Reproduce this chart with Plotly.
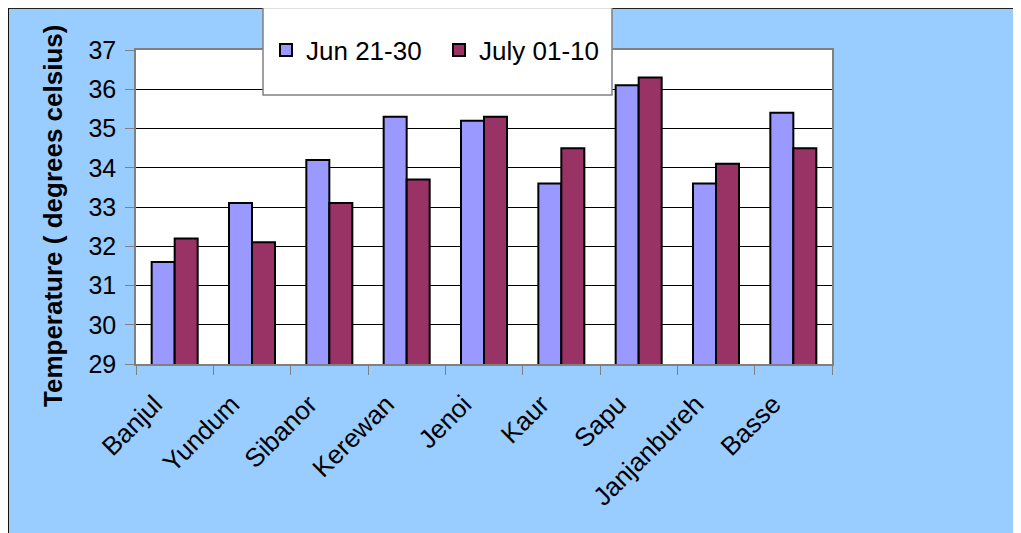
import plotly.graph_objects as go

stations = ["Banjul", "Yundum", "Sibanor", "Kerewan", "Jenoi", "Kaur", "Sapu", "Janjanbureh", "Basse"]
jun_21_30 = [31.6, 33.1, 34.2, 35.3, 35.2, 33.6, 36.1, 33.6, 35.4]
july_01_10 = [32.2, 32.1, 33.1, 33.7, 35.3, 34.5, 36.3, 34.1, 34.5]
y_ticks = [29, 30, 31, 32, 33, 34, 35, 36, 37]

FONT = "Liberation Sans, Arial, sans-serif"
OFF = 8  # page body margin
W, H = 1021 - OFF, 533 - OFF
L, R, T, B = 136 - OFF, 1021 - 832, 50 - OFF, 533 - 364
pw, ph = W - L - R, H - T - B


def px(x):
    # page pixel -> paper coordinate
    return (x - OFF - L) / pw


def py(y):
    return (H - B - (y - OFF)) / ph


fig = go.Figure()
fig.add_trace(go.Bar(x=stations, y=jun_21_30, name="Jun 21-30",
                     marker=dict(color="#9999FF", line=dict(color="black", width=2))))
fig.add_trace(go.Bar(x=stations, y=july_01_10, name="July 01-10",
                     marker=dict(color="#993366", line=dict(color="black", width=2))))

shapes = [
    dict(type="line", xref="paper", yref="paper", x0=px(8), x1=px(1030), y0=py(8), y1=py(8),
         line=dict(color="#222222", width=2), layer="above"),
    dict(type="line", xref="paper", yref="paper", x0=px(8), x1=px(8), y0=py(8), y1=py(540),
         line=dict(color="#111111", width=2), layer="above"),
    # legend box
    dict(type="rect", xref="paper", yref="paper", x0=px(263), x1=px(612), y0=py(95), y1=py(7.5),
         fillcolor="white", line=dict(color="#808080", width=1.5), layer="above"),
]

fig.update_layout(
    width=W, height=H,
    margin=dict(l=L, r=R, t=T, b=B, pad=0),
    paper_bgcolor="#99CCFF",
    plot_bgcolor="white",
    barmode="group",
    bargap=0.405,
    bargroupgap=0,
    font=dict(family=FONT, size=24, color="black"),
    shapes=shapes,
    showlegend=True,
    legend=dict(orientation="h", x=px(266), y=py(50), xanchor="left", yanchor="middle",
                bgcolor="rgba(0,0,0,0)", borderwidth=0, font=dict(size=26, family=FONT),
                entrywidth=128, entrywidthmode="pixels"),
    annotations=[
        dict(text="<b>Temperature ( degrees celsius)</b>", xref="paper", yref="paper",
             x=px(53), y=py(216), xanchor="center", yanchor="middle", textangle=-90,
             showarrow=False, font=dict(size=26, family=FONT, color="black")),
    ],
)
fig.update_xaxes(
    tickangle=-45, tickfont=dict(size=26, family=FONT),
    tickson="boundaries", ticks="outside", ticklen=9, tickcolor="#808080",
    ticklabelstandoff=13, ticklabelshift=-20,
    showline=True, linecolor="#808080", linewidth=1.5, mirror=True,
    showgrid=False, automargin=False,
)
fig.update_yaxes(
    range=[29, 37], tickvals=y_ticks, ticks="outside", ticklen=9, tickcolor="#808080",
    tickfont=dict(size=25, family=FONT), ticklabelstandoff=4,
    showline=True, linecolor="#808080", linewidth=1.5, mirror=True,
    showgrid=True, gridcolor="#000000", gridwidth=1, zeroline=False,
    automargin=False,
)

fig.write_html("out.html")
